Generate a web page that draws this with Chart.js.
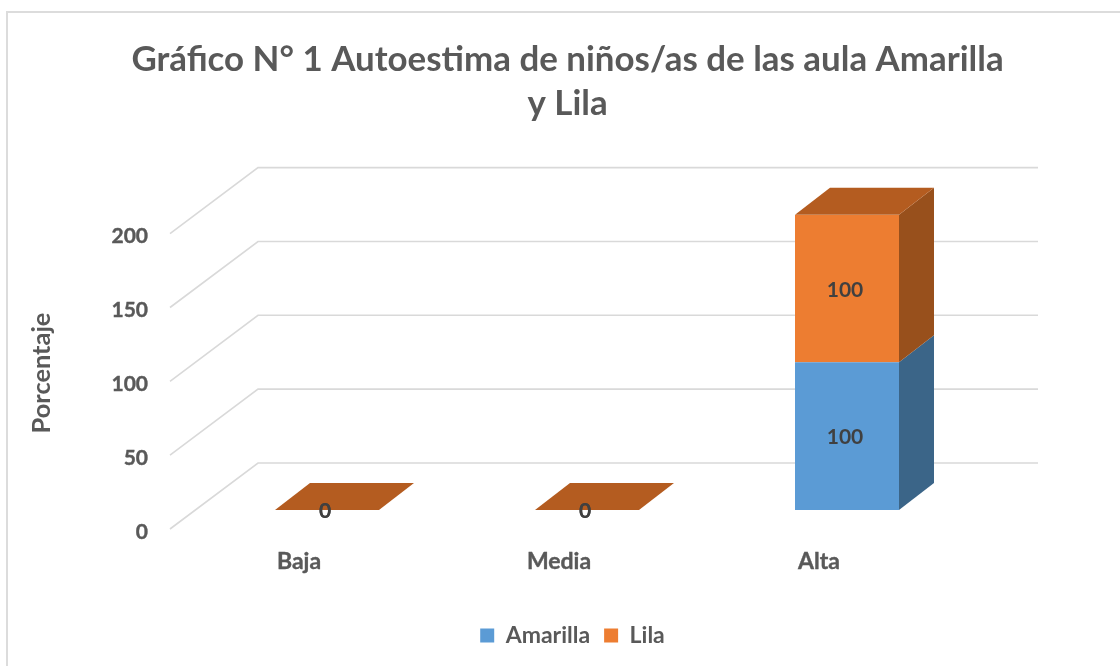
<!DOCTYPE html>
<html><head><meta charset="utf-8">
<style>html,body{margin:0;padding:0;background:#fff}#w{width:1120px;height:666px;position:relative}</style>
<script src="https://cdn.jsdelivr.net/npm/chart.js@4"></script>
</head><body><div id="w"><canvas id="c" width="1120" height="666"></canvas></div>
<script>
const categories = ['Baja', 'Media', 'Alta'];
const amarilla = [0, 0, 100];
const lila = [0, 0, 100];
const yTicks = [0, 50, 100, 150, 200];
const titleLines = ['Gráfico N° 1 Autoestima de niños/as de las aula Amarilla', 'y Lila'];
const yAxisTitle = 'Porcentaje';

const FONT = 'Lato, "Open Sans", sans-serif';
const TXT = '#595959';
const DEPTH_X = 35, DEPTH_Y = -27;        // bar depth
const WALL_X = 88, WALL_Y = -66;          // floor depth
const FRONT_OFF = 19;                     // axis front edge below the bars' base

const faces = [
  { side: '#3b6588', top: '#3b6588' },
  { side: '#98501c', top: '#b45c20' }
];

const scene = {
  id: 'scene',
  afterLayout(chart) {
    chart.legend.left += 5; chart.legend.right += 5;
  },
  beforeDraw(chart) {
    const { ctx, scales: { y } } = chart;
    ctx.save();
    ctx.strokeStyle = '#dcdcdc'; ctx.lineWidth = 2;
    ctx.beginPath(); ctx.moveTo(7, 666); ctx.lineTo(7, 12); ctx.lineTo(1120, 12); ctx.stroke();
    ctx.strokeStyle = '#d9d9d9'; ctx.lineWidth = 1.6;
    const x0 = 170, wallRight = 1038;
    yTicks.forEach(v => {
      const py = y.getPixelForValue(v);
      ctx.beginPath();
      ctx.moveTo(x0, py + FRONT_OFF);
      ctx.lineTo(x0 + WALL_X, py + FRONT_OFF + WALL_Y);
      ctx.lineTo(wallRight, py + FRONT_OFF + WALL_Y);
      ctx.stroke();
    });
    // y axis title
    ctx.save();
    ctx.translate(42, 373); ctx.rotate(-Math.PI / 2);
    ctx.font = 'bold 25.4px ' + FONT; ctx.fillStyle = TXT;
    ctx.textAlign = 'center'; ctx.textBaseline = 'middle';
    ctx.fillText(yAxisTitle, 0, 0);
    ctx.restore();
    ctx.restore();
  },
  afterDatasetsDraw(chart) {
    const { ctx } = chart;
    ctx.save();
    chart.data.datasets.forEach((ds, di) => {
      const meta = chart.getDatasetMeta(di);
      meta.data.forEach(bar => {
        const p = bar.getProps(['x', 'y', 'base', 'width'], true);
        const r = p.x + p.width / 2, l = p.x - p.width / 2;
        ctx.fillStyle = faces[di].side;
        ctx.beginPath();
        ctx.moveTo(r, p.y); ctx.lineTo(r + DEPTH_X, p.y + DEPTH_Y);
        ctx.lineTo(r + DEPTH_X, p.base + DEPTH_Y); ctx.lineTo(r, p.base);
        ctx.closePath(); ctx.fill();
        if (di === chart.data.datasets.length - 1) {
          ctx.fillStyle = faces[di].top;
          ctx.beginPath();
          ctx.moveTo(l, p.y); ctx.lineTo(l + DEPTH_X, p.y + DEPTH_Y);
          ctx.lineTo(r + DEPTH_X, p.y + DEPTH_Y); ctx.lineTo(r, p.y);
          ctx.closePath(); ctx.fill();
        }
      });
    });
    ctx.font = 'bold 21px ' + FONT;
    ctx.fillStyle = '#404040';
    ctx.textAlign = 'center'; ctx.textBaseline = 'middle';
    chart.data.datasets.forEach((ds, di) => {
      const meta = chart.getDatasetMeta(di);
      meta.data.forEach((bar, i) => {
        const p = bar.getProps(['x', 'y', 'base'], true);
        ctx.fillText(String(ds.data[i]), p.x - 2, (p.y + p.base) / 2 + 1.5);
      });
    });
    ctx.restore();
  }
};

new Chart(document.getElementById('c'), {
  type: 'bar',
  data: {
    labels: categories,
    datasets: [
      { label: 'Amarilla', data: amarilla, backgroundColor: '#5b9bd5', stack: 's' },
      { label: 'Lila', data: lila, backgroundColor: '#ed7d31', stack: 's' }
    ]
  },
  plugins: [scene],
  options: {
    responsive: false, animation: false,
    layout: { padding: { left: 27, right: 12, top: 26, bottom: 9 } },
    barPercentage: 0.8, categoryPercentage: 0.5,
    scales: {
      x: {
        stacked: true,
        grid: { display: false }, border: { display: false },
        afterFit(s) { s.height = 100; },
        ticks: { color: TXT, textStrokeColor: TXT, textStrokeWidth: 0.4, font: { family: FONT, weight: 'bold', size: 23 }, labelOffset: -28, padding: 30, maxRotation: 0 }
      },
      y: {
        stacked: true, min: 0, max: 200,
        grid: { display: false }, border: { display: false },
        afterBuildTicks(s) { s.ticks = yTicks.map(v => ({ value: v })); },
        afterFit(s) { s.width = 170; },
        ticks: { color: TXT, textStrokeColor: TXT, textStrokeWidth: 0.4, font: { family: FONT, weight: 'bold', size: 21 }, labelOffset: 22, padding: 41 }
      },
      right: {
        position: 'right', display: true,
        grid: { display: false }, border: { display: false }, ticks: { display: false },
        afterFit(s) { s.width = 131; }
      }
    },
    plugins: {
      title: { display: true, text: titleLines, color: TXT, font: { family: FONT, weight: 'bold', size: 34.9, lineHeight: 1.26 }, padding: { top: 12, bottom: 88.7 } },
      legend: { position: 'bottom', labels: { color: TXT, boxWidth: 14, boxHeight: 14, padding: 14, font: { family: FONT, weight: 'bold', size: 23 } } },
      tooltip: { enabled: false }
    }
  }
});
</script></body></html>
